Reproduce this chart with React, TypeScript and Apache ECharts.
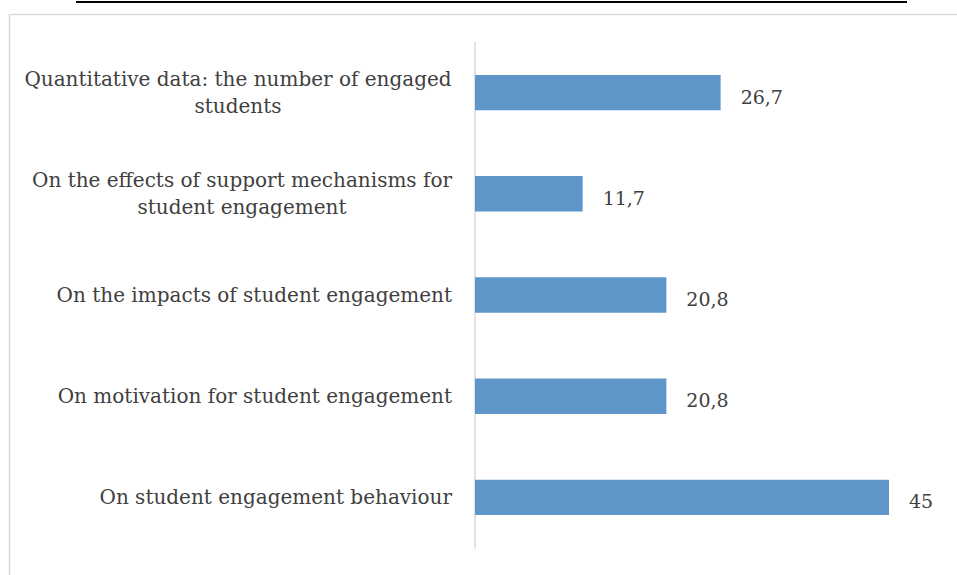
import React, { useEffect, useRef } from "react";
import * as echarts from "echarts";

const categories = [
  "On student engagement behaviour",
  "On motivation for student engagement",
  "On the impacts of student engagement",
  "On the effects of support mechanisms for\nstudent engagement",
  "Quantitative data: the number of engaged\nstudents",
];
const values = [45, 20.8, 20.8, 11.7, 26.7];

const FONT = "DejaVu Serif";
const FS = 20;
const VFS = 19;

function measure(t: string): number {
  const c = document.createElement("canvas").getContext("2d")!;
  c.font = `${FS}px "${FONT}"`;
  return Math.ceil(c.measureText(t).width);
}

export default function App() {
  const ref = useRef<HTMLDivElement>(null);
  useEffect(() => {
    const chart = echarts.init(ref.current!, null, { renderer: "svg" });
    const rich: Record<string, any> = {};
    const labelMap: Record<string, string> = {};
    categories.forEach((cat, i) => {
      const lines = cat.split("\n");
      const w = Math.max(...lines.map(measure));
      const key = "l" + i;
      rich[key] = {
        width: w,
        align: "center",
        fontFamily: FONT,
        fontSize: FS,
        color: "#404040",
        lineHeight: 27,
      };
      labelMap[cat] =
        lines.length > 1
          ? lines.map((l) => `{${key}|${l}}`).join("\n")
          : cat;
    });
    chart.setOption({
      animation: false,
      backgroundColor: "#ffffff",
      graphic: [
        {
          type: "line",
          shape: { x1: 76, y1: 2, x2: 907, y2: 2 },
          style: { stroke: "#000000", lineWidth: 2 },
        },
        {
          type: "rect",
          shape: { x: 9.5, y: 14.5, width: 960, height: 580 },
          style: { fill: "none", stroke: "#d9d9d9", lineWidth: 1.5 },
        },
      ],
      grid: { left: 475, right: 22, top: 42, bottom: 27 },
      xAxis: {
        type: "value",
        min: 0,
        max: 50,
        show: false,
      },
      yAxis: {
        type: "category",
        data: categories,
        axisLine: { show: true, lineStyle: { color: "#d9d9d9", width: 1.5 } },
        axisTick: { show: false },
        axisLabel: {
          fontFamily: FONT,
          fontSize: FS,
          color: "#404040",
          margin: 23,
          lineHeight: 27,
          rich,
          formatter: (v: string) => labelMap[v] ?? v,
        },
      },
      series: [
        {
          type: "bar",
          data: values,
          barWidth: "35%",
          itemStyle: { color: "#5f96ca" },
          label: {
            show: true,
            position: "right",
            distance: 20,
            fontFamily: FONT,
            fontSize: VFS,
            color: "#404040",
            offset: [0, 4],
            formatter: (p: any) => String(p.value).replace(".", ","),
          },
        },
      ],
    });
    return () => chart.dispose();
  }, []);
  return (
    <div
      ref={ref}
      style={{ position: "fixed", left: 0, top: 0, width: 957, height: 575 }}
    />
  );
}
